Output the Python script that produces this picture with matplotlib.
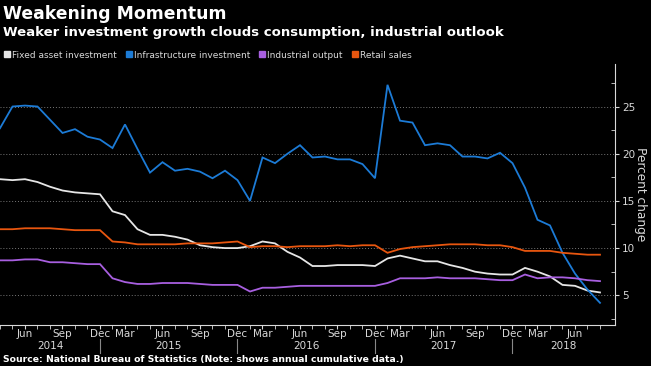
import numpy as np
import matplotlib
matplotlib.use("Agg")
import matplotlib.pyplot as plt
from matplotlib.lines import Line2D

# months shown (January is folded into February in cumulative data)
months = (["Apr", "May", "Jun", "Jul", "Aug", "Sep", "Oct", "Nov", "Dec"]
          + ["Feb", "Mar", "Apr", "May", "Jun", "Jul", "Aug", "Sep", "Oct", "Nov", "Dec"] * 3
          + ["Feb", "Mar", "Apr", "May", "Jun", "Jul", "Aug"])
years = [2014] * 9 + [2015] * 11 + [2016] * 11 + [2017] * 11 + [2018] * 7

fixed_asset = [17.3, 17.2, 17.3, 17.0, 16.5, 16.1, 15.9, 15.8, 15.7,
               13.9, 13.5, 12.0, 11.4, 11.4, 11.2, 10.9, 10.3, 10.1, 10.0, 10.0,
               10.2, 10.7, 10.5, 9.6, 9.0, 8.1, 8.1, 8.2, 8.2, 8.2, 8.1,
               8.9, 9.2, 8.9, 8.6, 8.6, 8.2, 7.9, 7.5, 7.3, 7.2, 7.2,
               7.9, 7.5, 7.0, 6.1, 6.0, 5.5, 5.3]
infrastructure = [22.7, 25.0, 25.1, 25.0, 23.6, 22.2, 22.6, 21.8, 21.5,
                  20.6, 23.1, 20.5, 18.0, 19.1, 18.2, 18.4, 18.1, 17.4, 18.2, 17.2,
                  15.0, 19.6, 19.0, 20.0, 20.9, 19.6, 19.7, 19.4, 19.4, 18.9, 17.4,
                  27.3, 23.5, 23.3, 20.9, 21.1, 20.9, 19.7, 19.7, 19.5, 20.1, 19.0,
                  16.4, 13.0, 12.4, 9.5, 7.3, 5.6, 4.2]
industrial = [8.7, 8.7, 8.8, 8.8, 8.5, 8.5, 8.4, 8.3, 8.3,
              6.8, 6.4, 6.2, 6.2, 6.3, 6.3, 6.3, 6.2, 6.1, 6.1, 6.1,
              5.4, 5.8, 5.8, 5.9, 6.0, 6.0, 6.0, 6.0, 6.0, 6.0, 6.0,
              6.3, 6.8, 6.8, 6.8, 6.9, 6.8, 6.8, 6.8, 6.7, 6.6, 6.6,
              7.2, 6.8, 6.9, 6.9, 6.8, 6.6, 6.5]
retail = [12.0, 12.0, 12.1, 12.1, 12.1, 12.0, 11.9, 11.9, 11.9,
          10.7, 10.6, 10.4, 10.4, 10.4, 10.4, 10.5, 10.5, 10.5, 10.6, 10.7,
          10.1, 10.2, 10.2, 10.1, 10.2, 10.2, 10.2, 10.3, 10.2, 10.3, 10.3,
          9.5, 9.9, 10.1, 10.2, 10.3, 10.4, 10.4, 10.4, 10.3, 10.3, 10.1,
          9.7, 9.7, 9.7, 9.5, 9.4, 9.3, 9.3]

labels = ["Fixed asset investment", "Infrastructure investment", "Industrial output", "Retail sales"]
colors = ["#e6e6e6", "#1c7bd6", "#a85fe0", "#e8560f"]
tick_months = ["Mar", "Jun", "Sep", "Dec"]

bg = "black"
fg = "#d9d9d9"

fig = plt.figure(figsize=(6.51, 3.66), dpi=100, facecolor=bg)
ax = fig.add_axes([0.0, 0.112, 0.9447, 0.713], facecolor=bg)

x = np.arange(len(months))
for series, c in zip([fixed_asset, infrastructure, industrial, retail], colors):
    ax.plot(x, series, color=c, lw=1.3, solid_joinstyle="miter")

ax.set_xlim(0, 49.2)
ax.set_ylim(1.85, 29.5)

ax.yaxis.tick_right()
ax.yaxis.set_label_position("right")
ax.set_yticks([5, 10, 15, 20, 25])
ax.set_yticks([2.5, 7.5, 12.5, 17.5, 22.5, 27.5], minor=True)
ax.tick_params(axis="y", which="major", colors=fg, labelsize=7.5, length=3, pad=2)
ax.tick_params(axis="y", which="minor", colors=fg, length=3, direction="in")
ax.set_ylabel("Percent change", color=fg, fontsize=8.7, rotation=-90, labelpad=12)
ax.yaxis.set_label_coords(1.052, 0.5)
ax.grid(axis="y", color="#777777", ls=(0, (1, 2)), lw=0.7)

ticks = [i for i, m in enumerate(months) if m in tick_months]
ax.set_xticks(ticks)
ax.set_xticklabels([months[i] for i in ticks])
ax.set_xticks(x, minor=True)
ax.tick_params(axis="x", which="both", colors=fg, labelsize=7.5, length=3, pad=0)

for s in ["top", "left"]:
    ax.spines[s].set_visible(False)
for s in ["bottom", "right"]:
    ax.spines[s].set_color(fg)
    ax.spines[s].set_linewidth(0.8)

# year labels and separators
trans = ax.get_xaxis_transform()
yrs = sorted(set(years))
for yr in yrs:
    idx = [i for i, v in enumerate(years) if v == yr]
    a = max(idx[0] - 1, 0)
    b = 49.2 if yr == yrs[-1] else idx[-1]
    ax.text((a + b) / 2, -0.082, str(yr), transform=trans, ha="center", va="center",
            color=fg, fontsize=7.5)
for yr in yrs[:-1]:
    last = max(i for i, v in enumerate(years) if v == yr)
    ax.plot([last, last], [-0.054, -0.108], transform=trans, color="#888888", lw=0.8,
            clip_on=False)

fig.text(0.004, 0.962, "Weakening Momentum", color="white", fontsize=12.4,
         fontweight="bold", va="center")
fig.text(0.004, 0.91, "Weaker investment growth clouds consumption, industrial outlook",
         color="white", fontsize=9.5, fontweight="bold", va="center")
fig.text(0.004, 0.018, "Source: National Bureau of Statistics (Note: shows annual cumulative data.)",
         color="white", fontsize=6.65, fontweight="bold", va="center")

handles = [Line2D([], [], ls="", marker="s", ms=5, color=c) for c in colors]
leg = fig.legend(handles, labels, loc="center left", bbox_to_anchor=(0.006, 1 - 55 / 366),
                 ncol=4, frameon=False, fontsize=6.5, handlelength=0.6, handletextpad=0.3,
                 columnspacing=1.0, borderpad=0, borderaxespad=0)
for t in leg.get_texts():
    t.set_color(fg)

fig.savefig("out.png", dpi=100, facecolor=bg)
